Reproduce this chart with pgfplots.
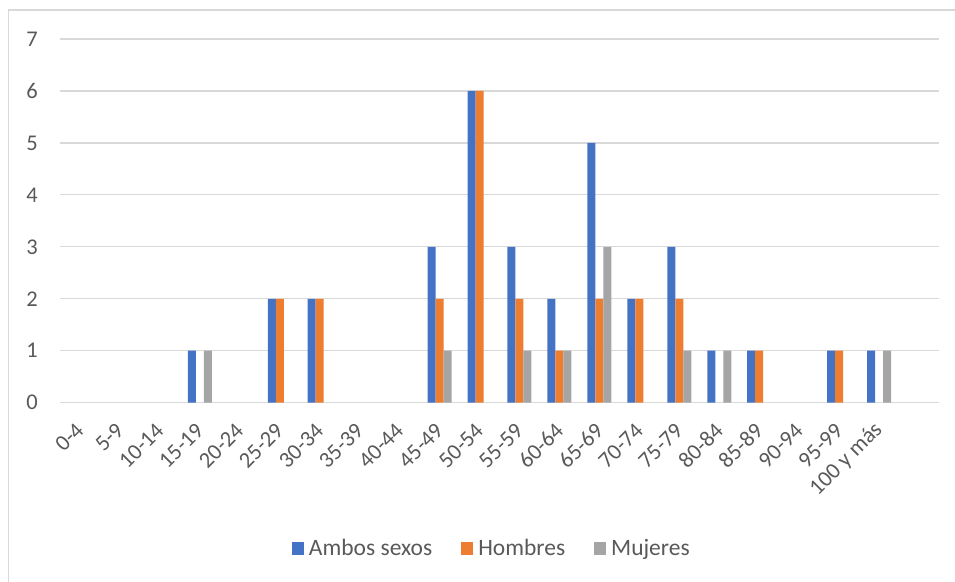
\documentclass[border=0pt]{standalone}
\usepackage{pgfplots}
\pgfplotsset{compat=1.18}
\usepackage{fontspec}
\setmainfont{Carlito}
\definecolor{cblue}{HTML}{4472C4}
\definecolor{corange}{HTML}{ED7D31}
\definecolor{cgray}{HTML}{A5A5A5}
\definecolor{cgrid}{HTML}{D9D9D9}
\definecolor{ctext}{HTML}{595959}
\pgfplotstableread{
x a h m
0 0 0 0
1 0 0 0
2 0 0 0
3 1 0 1
4 0 0 0
5 2 2 0
6 2 2 0
7 0 0 0
8 0 0 0
9 3 2 1
10 6 6 0
11 3 2 1
12 2 1 1
13 5 2 3
14 2 2 0
15 3 2 1
16 1 0 1
17 1 1 0
18 0 0 0
19 1 1 0
20 1 0 1
}\datatable
\begin{document}
\begin{tikzpicture}[x=1pt,y=1pt]
\useasboundingbox (0,0) rectangle (955,581);
\draw[cgrid, line width=1.5pt] (8.5,-5) -- (8.5,571) -- (960,571);
\begin{axis}[
  at={(60pt,178.3pt)}, anchor=south west,
  scale only axis, width=879pt, height=363.7pt,
  ybar=0pt, bar width=8pt,
  xmin=-0.5, xmax=21.5, ymin=0, ymax=7,
  xtick={0,...,20},
  xticklabels={0-4,5-9,10-14,15-19,20-24,25-29,30-34,35-39,40-44,45-49,50-54,55-59,60-64,65-69,70-74,75-79,80-84,85-89,90-94,95-99,100 y más},
  ytick={0,...,7},
  ymajorgrids, grid style={cgrid, line width=1.2pt},
  axis line style={draw=none},
  major tick length=0pt,
  unbounded coords=discard,
  y filter/.expression={y==0 ? nan : y},
  tick label style={font=\fontsize{22.5}{26}\selectfont, text=ctext, inner sep=0pt},
  /pgf/number format/assume math mode=true,
  yticklabel style={anchor=east, xshift=-22pt},
  xticklabel style={rotate=45, anchor=east},
  xticklabel shift=24pt,
  legend columns=-1,
  legend style={at={(0.493,-0.4)}, anchor=center, draw=none, fill=none,
    font=\fontsize{23.5}{27}\selectfont, text=ctext,
    /tikz/every even column/.append style={column sep=24pt},
    nodes={inner xsep=5pt}},
]
\addplot[fill=cblue, draw=none, legend image code/.code={\fill[cblue] (0pt,-6.5pt) rectangle (12pt,6.5pt);}] table[x=x,y=a]{\datatable};
\addplot[fill=corange, draw=none, legend image code/.code={\fill[corange] (0pt,-6.5pt) rectangle (12pt,6.5pt);}] table[x=x,y=h]{\datatable};
\addplot[fill=cgray, draw=none, legend image code/.code={\fill[cgray] (0pt,-6.5pt) rectangle (12pt,6.5pt);}] table[x=x,y=m]{\datatable};
\legend{Ambos sexos,Hombres,Mujeres}
\end{axis}
\end{tikzpicture}
\end{document}
